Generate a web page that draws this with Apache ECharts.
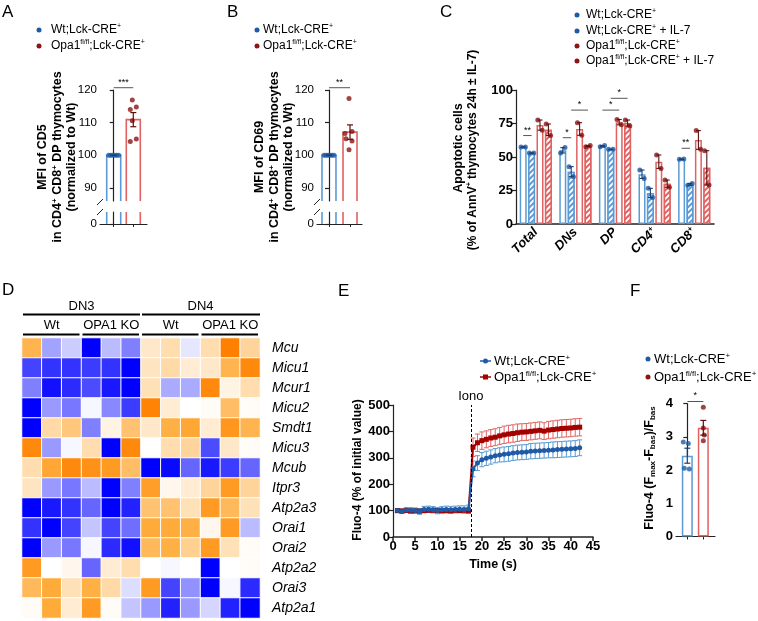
<!DOCTYPE html>
<html><head><meta charset="utf-8">
<script src="https://cdn.jsdelivr.net/npm/echarts@6/dist/echarts.min.js"></script>
<style>html,body{margin:0;padding:0;background:#fff}#c{width:758px;height:621px}</style>
</head><body><div id="c"></div>
<script>
// ================= DATA =================
// Panel A : MFI of CD5 (normalized to Wt)
const aWt = [100, 100, 100, 100, 100, 100];
const aKo = [116.9, 114.8, 114.0, 110.6, 104.2, 105.0];
const aSig = '***';
// Panel B : MFI of CD69
const bWt = [100, 100, 100, 100, 100, 100];
const bKo = [117.4, 106.7, 107.3, 105.1, 104.4, 101.7];
const bSig = '**';
// Panel C : apoptotic cells (two replicates per bar)
const cCats = ['Total', 'DNs', 'DP', 'CD4+', 'CD8+'];
const cWt    = [[57.5, 57.5], [53, 57], [57.7, 58.5], [40.3, 34], [48.3, 48.5]];
const cWtIL7 = [[53, 53], [42.8, 35.3], [55.7, 55.7], [26.6, 19.7], [28.9, 30.3]];
const cKo    = [[77.6, 70], [75.6, 66.2], [78, 74], [51.5, 41.5], [69.7, 55.7]];
const cKoIL7 = [[74.6, 66], [57.7, 58.5], [77.6, 73.1], [32.8, 27.4], [54.7, 29.1]];
// significance: [category, barA, barB, y value, label]
const cSig = [[0, 0, 1, 66, '**'], [1, 0, 1, 64.4, '*'], [1, 1, 3, 85, '*'],
              [2, 0, 2, 85, '*'], [2, 1, 3, 93.8, '*'], [4, 0, 1, 56.5, '**']];
// Panel D : heatmap (z-scores)
const dGenes = ['Mcu','Micu1','Mcur1','Micu2','Smdt1','Micu3','Mcub','Itpr3','Atp2a3','Orai1','Orai2','Atp2a2','Orai3','Atp2a1'];
const dSamples = ['DN3 Wt 1','DN3 Wt 2','DN3 Wt 3','DN3 KO 1','DN3 KO 2','DN3 KO 3','DN4 Wt 1','DN4 Wt 2','DN4 Wt 3','DN4 KO 1','DN4 KO 2','DN4 KO 3'];
const dValues = [
  [ 1.8,-1.1,-0.6,-3.0,-0.8,-1.5, 0.6, 0.9,-0.3, 0.9, 3.0, 1.1],
  [-2.2,-2.4,-2.4,-2.3,-2.4,-3.0, 0.7, 1.0, 0.5, 0.6, 1.8, 2.8],
  [-1.5,-2.8,-2.5,-2.1,-2.7,-3.0, 0.8,-1.0,-1.0, 2.8, 0.3, 0.9],
  [-3.0,-1.2,-1.6,-0.1,-1.4,-2.3, 2.9, 0.5, 0.0, 0.1, 1.6, 0.1],
  [-3.0, 1.0, 1.4,-1.5, 0.3, 1.5, 0.6, 1.9, 2.1, 0.5, 2.5, 1.8],
  [ 2.8,-1.2,-0.1, 0.9,-3.0, 2.8, 0.0, 0.9, 1.1,-2.1, 0.6, 0.1],
  [ 0.9, 2.1, 2.8, 2.6, 2.4, 1.6,-3.0,-2.9,-1.8,-2.7,-2.3,-1.8],
  [ 0.7,-1.2,-1.6,-0.8,-3.0,-1.5, 2.3, 0.2, 0.5, 1.1, 2.4, 1.1],
  [-3.0,-2.7,-2.4,-1.8,-3.0,-2.6, 1.5, 1.5, 0.8, 2.4, 1.7, 0.8],
  [-2.4,-3.0,-2.2,-0.7,-2.2,-1.7, 2.0, 2.0, 1.9, 0.2, 2.4,-0.8],
  [-3.0,-1.2,-1.6,-0.1,-2.5,-2.8, 1.7, 1.9, 1.2, 2.4, 0.8, 0.1],
  [ 2.4, 0.0, 0.2,-1.8, 0.5, 0.9, 0.0,-0.1, 0.0,-3.0, 0.0, 0.1],
  [ 1.7, 2.0, 0.8, 1.9, 1.0,-0.4, 2.4,-2.2,-1.3,-3.0,-0.1,-2.5],
  [ 0.1, 2.0, 0.5, 2.4, 0.1,-0.7,-1.2,-2.6,-1.2,-0.5,-2.6,-3.0]
];
// Panel E : Fluo-4 kinetics
const eTime = [1,2,3,4,5,6,7,8,9,10,11,12,13,14,15,16,17,18,19,20,21,22,23,24,25,26,27,28,29,30,31,32,33,34,35,36,37,38,39,40,41,42];
const eWt = [100,97,102,101,100,97,104,105,103,100,103,104,103,104,105,104,107,
             258,280,293,298,303,308,311,313,315,318,320,321,322,325,326,327,328,329,330,331,332,333,334,335,338];
const eWtSem = [8,8,9,10,10,11,12,12,12,12,12,13,13,13,13,14,14,
             30,28,27,27,27,27,27,28,28,28,28,28,28,29,29,29,29,29,30,30,30,30,30,30,30];
const eKo = [100,99,100,98,99,98,100,101,101,100,99,100,99,101,100,101,98,
             340,357,365,370,375,378,383,387,390,392,395,397,398,400,402,404,401,405,407,409,411,412,413,415,416];
const eKoSem = [4,4,4,4,4,4,4,4,4,4,4,4,4,4,4,4,4,
             35,33,33,32,32,32,32,33,33,33,33,32,32,32,32,32,32,33,33,33,33,33,33,33,33];
const eIono = 17.5;
// Panel F : (Fmax-Fbas)/Fbas
const fWt = [2.84, 2.80, 2.05, 2.03];
const fKo = [3.89, 3.26, 3.05, 2.88];
const fSig = '*';

// ================= STYLE =================
const FONT = 'Liberation Sans, Arial, Helvetica, sans-serif';
const BLUE_BAR = '#5b9bd5', RED_BAR = '#e06262';
const BLUE_DOT = '#1f5aa6', RED_DOT = '#8b1515';
const E_BLUE = '#1f5aa6', E_RED = '#a30000', E_BLUE_ERR = '#5b9bd5', E_RED_ERR = '#e06666';
const jitWt6 = [-5, -3, -1, 1, 3, 5];
const jitAKo = [-1, 3, -3, -1, -3, 3];
const jitBKo = [-1, -5, 2, -4, 2, -1];
const jitFWt = [-4, 1, -3, 2];
const jitFKo = [0, 0, 1, 0];
const jitC = [-2.2, 2.2];
const C_BAR_W = 7, C_GAP = 0.2;

const mean = a => a.reduce((s, v) => s + v, 0) / a.length;
const sem = a => { const m = mean(a); return Math.sqrt(a.reduce((s, v) => s + (v - m) * (v - m), 0) / (a.length - 1)) / Math.sqrt(a.length); };

const cGroupW = 4 * C_BAR_W + 3 * C_BAR_W * C_GAP;
const cOff = [0, 1, 2, 3].map(i => -cGroupW / 2 + C_BAR_W / 2 + i * C_BAR_W * (1 + C_GAP));

// ================= RENDER HELPERS =================
function openBar(halfW, colors, base, clipTop, drawTop) {
  return function (params, api) {
    const x = api.value(0), v = Math.min(api.value(1), clipTop);
    const pB = api.coord([x, base]), pT = api.coord([x, v]);
    const st = { stroke: colors[params.dataIndex], lineWidth: 1.6, fill: null };
    if (drawTop) {
      return { type: 'polyline', shape: { points: [[pB[0] - halfW, pB[1]], [pB[0] - halfW, pT[1]], [pB[0] + halfW, pT[1]], [pB[0] + halfW, pB[1]]] }, style: st };
    }
    return { type: 'group', children: [
      { type: 'line', shape: { x1: pB[0] - halfW, y1: pB[1], x2: pB[0] - halfW, y2: pT[1] }, style: st },
      { type: 'line', shape: { x1: pB[0] + halfW, y1: pB[1], x2: pB[0] + halfW, y2: pT[1] }, style: st }
    ] };
  };
}
function errBar(cap, colorFn, width, offs) {
  return function (params, api) {
    const x0 = api.value(0), lo = api.value(1), hi = api.value(2);
    const off = offs ? offs[api.value(3)] : 0;
    const a = api.coord([x0, lo]), b = api.coord([x0, hi]);
    const x = a[0] + off, c = cap / 2;
    const st = { stroke: colorFn(params.dataIndex), lineWidth: width };
    return { type: 'group', children: [
      { type: 'line', shape: { x1: x, y1: a[1], x2: x, y2: b[1] }, style: st },
      { type: 'line', shape: { x1: x - c, y1: b[1], x2: x + c, y2: b[1] }, style: st },
      { type: 'line', shape: { x1: x - c, y1: a[1], x2: x + c, y2: a[1] }, style: st }
    ] };
  };
}
function sigMark(list, offs) {
  // list items: [xA, xB, y, label] (value axis) or [cat, barA, barB, y, label] (category + offsets)
  return function (params, api) {
    const it = list[params.dataIndex];
    let x1, x2, y;
    if (offs) {
      const p = api.coord([it[0], it[3]]);
      x1 = p[0] + offs[it[1]]; x2 = p[0] + offs[it[2]]; y = p[1];
    } else {
      const p1 = api.coord([it[0], it[2]]), p2 = api.coord([it[1], it[2]]);
      x1 = p1[0]; x2 = p2[0]; y = p1[1];
    }
    const lab = offs ? it[4] : it[3];
    return { type: 'group', children: [
      { type: 'line', shape: { x1: x1, y1: y, x2: x2, y2: y }, style: { stroke: '#555', lineWidth: 1 } },
      { type: 'text', style: { text: lab, x: (x1 + x2) / 2, y: y - 1, align: 'center', verticalAlign: 'bottom', textAlign: 'center', textVerticalAlign: 'bottom', font: '9px ' + FONT, fill: '#000' } }
    ] };
  };
}

// ================= TEXT HELPERS =================
const R = (sz, bold) => ({
  n: { fontSize: sz, fontWeight: bold ? 'bold' : 'normal', fontFamily: FONT, color: '#000', lineHeight: sz + 2 },
  s: { fontSize: Math.round(sz * 0.62), fontWeight: bold ? 'bold' : 'normal', fontFamily: FONT, color: '#000', verticalAlign: 'top', lineHeight: sz + 2 },
  u: { fontSize: Math.round(sz * 0.62), fontWeight: bold ? 'bold' : 'normal', fontFamily: FONT, color: '#000', verticalAlign: 'bottom', lineHeight: sz + 2 }
});
function txt(x, y, text, sz, bold, opt) {
  opt = opt || {};
  return { type: 'text', x: x, y: y, rotation: opt.rot || 0, z: 50,
    style: { text: text, rich: R(sz, bold), font: (bold ? 'bold ' : '') + sz + 'px ' + FONT, fill: '#000',
      align: opt.align || 'left', textAlign: opt.align || 'left', verticalAlign: 'middle', textVerticalAlign: 'middle' } };
}
function dot(cx, cy, col) { return { type: 'circle', z: 50, shape: { cx: cx, cy: cy, r: 2.5 }, style: { fill: col } }; }
function hdot(cx, cy, col) { return { type: 'group', z: 50, children: [dot(cx, cy, col), { type: 'line', shape: { x1: cx - 2, y1: cy + 2, x2: cx + 2, y2: cy - 2 }, style: { stroke: '#fff', lineWidth: 0.9 } }] }; }
function letter(x, y, t) { return { type: 'text', x: x, y: y, z: 50, style: { text: t, font: '17px ' + FONT, fill: '#000', align: 'left', verticalAlign: 'top', textAlign: 'left', textVerticalAlign: 'top' } }; }
function gline(x1, y1, x2, y2, w, col) { return { type: 'line', z: 50, shape: { x1: x1, y1: y1, x2: x2, y2: y2 }, style: { stroke: col || '#000', lineWidth: w || 1 } }; }

const WT_LAB = '{n|Wt;Lck-CRE}{s|+}';
const KO_LAB = '{n|Opa1}{s|fl/fl}{n|;Lck-CRE}{s|+}';

// ================= AXES =================
const AX = '#222';
const lblBase = { color: '#000', fontFamily: FONT };
function yVal(grid, min, max, custom, labelOpt) {
  return { gridIndex: grid, type: 'value', min: min, max: max,
    axisLine: { show: true, lineStyle: { color: AX, width: 1.2 } },
    axisTick: { show: true, length: 4, customValues: custom, lineStyle: { color: AX, width: 1.2 } },
    axisLabel: Object.assign({ customValues: custom, margin: 3 }, lblBase, labelOpt || { fontSize: 11.5 }),
    splitLine: { show: false } };
}
function xVal(grid, min, max, showLine, ticks) {
  return { gridIndex: grid, type: 'value', min: min, max: max,
    axisLine: { show: showLine, onZero: false, lineStyle: { color: AX, width: 1.2 } },
    axisTick: { show: !!ticks, customValues: ticks || [], length: 3, lineStyle: { color: AX } },
    axisLabel: { show: false }, splitLine: { show: false } };
}

const A_X = [-0.7, 1.7], B_X = [-0.57, 1.57], F_X = [-0.706, 1.73];
const BRK_MAX = 3.67;

const grids = [
  { left: 100, top: 90, width: 47, height: 111 },   // 0 A top
  { left: 100, top: 212, width: 47, height: 12 },   // 1 A bottom
  { left: 317, top: 90, width: 45, height: 111 },   // 2 B top
  { left: 317, top: 212, width: 45, height: 12 },   // 3 B bottom
  { left: 516, top: 90, width: 198, height: 134 },  // 4 C
  { left: 22, top: 338, width: 238, height: 280 },  // 5 D
  { left: 393, top: 405, width: 200, height: 132 }, // 6 E
  { left: 676, top: 403.5, width: 39, height: 133 } // 7 F
];
const boldLbl = { fontSize: 13, fontWeight: 'bold' };

const xAxes = [
  xVal(0, A_X[0], A_X[1], false), xVal(1, A_X[0], A_X[1], true, [0, 1]),
  xVal(2, B_X[0], B_X[1], false), xVal(3, B_X[0], B_X[1], true, [0, 1]),
  { gridIndex: 4, type: 'category', data: cCats,
    axisLine: { show: true, lineStyle: { color: AX, width: 1.5 } }, axisTick: { show: false },
    axisLabel: { rotate: 45, margin: 6, interval: 0, formatter: v => v.endsWith('+') ? '{i|' + v.slice(0, -1) + '}{is|+}' : '{i|' + v + '}',
      rich: { i: { fontSize: 13, fontWeight: 'bold', fontStyle: 'italic', fontFamily: FONT, color: '#000', lineHeight: 15 },
              is: { fontSize: 8, fontWeight: 'bold', fontStyle: 'italic', fontFamily: FONT, color: '#000', verticalAlign: 'top', lineHeight: 15 } } } },
  { gridIndex: 5, type: 'category', data: dSamples, show: false },
  { gridIndex: 6, type: 'value', min: 0, max: 45, interval: 5,
    axisLine: { show: true, onZero: false, lineStyle: { color: AX, width: 1.5 } }, axisTick: { show: true, length: 4, lineStyle: { color: AX, width: 1.5 } },
    axisLabel: Object.assign({ margin: 3 }, lblBase, boldLbl), splitLine: { show: false } },
  xVal(7, F_X[0], F_X[1], true, [0, 1])
];
const yAxes = [
  yVal(0, 86, 120, [90, 100, 110, 120]), yVal(1, 0, BRK_MAX, [0]),
  yVal(2, 86, 120, [90, 100, 110, 120]), yVal(3, 0, BRK_MAX, [0]),
  Object.assign(yVal(4, 0, 100, [0, 25, 50, 75, 100], boldLbl), { interval: 25 }),
  { gridIndex: 5, type: 'category', data: dGenes, inverse: true, position: 'right',
    axisLine: { show: false }, axisTick: { show: false },
    axisLabel: { margin: 12, fontSize: 14, fontStyle: 'italic', fontFamily: FONT, color: '#000' } },
  Object.assign(yVal(6, 0, 500, [0, 100, 200, 300, 400, 500], boldLbl), { interval: 100 }),
  Object.assign(yVal(7, 0, 4, [0, 1, 2, 3, 4], boldLbl), { interval: 1 })
];

// ================= SERIES =================
const series = [];
function twoGroupPanel(gTop, gBot, wt, ko, jitW, jitK, sig) {
  const means = [[0, mean(wt)], [1, mean(ko)]];
  const cols = [BLUE_BAR, RED_BAR];
  series.push({ type: 'custom', xAxisIndex: gTop, yAxisIndex: gTop, data: means, renderItem: openBar(7, cols, 86, 1e9, true), z: 1, silent: true });
  series.push({ type: 'custom', xAxisIndex: gBot, yAxisIndex: gBot, data: means, renderItem: openBar(7, cols, 0, BRK_MAX, false), z: 1, silent: true });
  series.push({ type: 'scatter', xAxisIndex: gTop, yAxisIndex: gTop, symbolSize: 5, z: 3,
    data: wt.map((v, i) => ({ value: [0, v], symbolOffset: [jitW[i], 0], itemStyle: { color: BLUE_DOT } }))
      .concat(ko.map((v, i) => ({ value: [1, v], symbolOffset: [jitK[i], 0], itemStyle: { color: RED_DOT } }))) });
  series.push({ type: 'custom', xAxisIndex: gTop, yAxisIndex: gTop, z: 4, silent: true,
    data: [[0, mean(wt) - sem(wt), mean(wt) + sem(wt)], [1, mean(ko) - sem(ko), mean(ko) + sem(ko)]],
    renderItem: errBar(6, i => i ? '#5a1010' : '#1a3f70', 1.2) });
  series.push({ type: 'custom', xAxisIndex: gTop, yAxisIndex: gTop, z: 4, silent: true, data: [[0]],
    renderItem: sigMark([[0, 1, 120.7, sig]]) });
}
twoGroupPanel(0, 1, aWt, aKo, jitWt6, jitAKo, aSig);
twoGroupPanel(2, 3, bWt, bKo, jitWt6, jitBKo, bSig);

// Panel C
const cSets = [cWt, cWtIL7, cKo, cKoIL7];
const cBorder = [BLUE_BAR, BLUE_BAR, RED_BAR, RED_BAR];
const cDotCol = [BLUE_DOT, BLUE_DOT, RED_DOT, RED_DOT];
cSets.forEach((set, k) => {
  const hatched = (k % 2 === 1);
  series.push({ type: 'bar', xAxisIndex: 4, yAxisIndex: 4, barWidth: C_BAR_W, barGap: (C_GAP * 100) + '%', silent: true, z: 1,
    data: set.map(p => mean(p)),
    itemStyle: { color: '#fff', borderColor: cBorder[k], borderWidth: 1.5,
      decal: hatched ? { symbol: 'rect', symbolSize: 1, color: cBorder[k], backgroundColor: '#fff', dashArrayX: [1, 0], dashArrayY: [1.6, 1.6], rotation: -Math.PI / 4 } : null } });
});
const cDots = [], cErr = [];
cSets.forEach((set, k) => set.forEach((p, ci) => {
  p.forEach((v, j) => cDots.push({ value: [ci, v], symbolOffset: [cOff[k] + jitC[j], 0], itemStyle: { color: cDotCol[k] } }));
  cErr.push([ci, mean(p) - sem(p), mean(p) + sem(p), k]);
}));
series.push({ type: 'custom', xAxisIndex: 4, yAxisIndex: 4, z: 4, silent: true, data: cErr,
  renderItem: errBar(5, i => cDotCol[cErr[i][3]] === BLUE_DOT ? '#1a3f70' : '#5a1010', 1.1, cOff) });
series.push({ type: 'scatter', xAxisIndex: 4, yAxisIndex: 4, symbolSize: 5, z: 3, data: cDots });
series.push({ type: 'custom', xAxisIndex: 4, yAxisIndex: 4, z: 4, silent: true, data: cSig.map(s => [s[0]]), renderItem: sigMark(cSig, cOff) });

// Panel D
const heatIndex = series.length;
const dData = [];
dValues.forEach((row, r) => row.forEach((v, c) => dData.push([c, r, v])));
series.push({ type: 'heatmap', xAxisIndex: 5, yAxisIndex: 5, data: dData, silent: true,
  itemStyle: { borderColor: '#fff', borderWidth: 1 }, emphasis: { disabled: true } });

// Panel E
series.push({ type: 'custom', xAxisIndex: 6, yAxisIndex: 6, z: 2, silent: true,
  data: eTime.map((t, i) => [t, eKo[i] - eKoSem[i], eKo[i] + eKoSem[i]]), renderItem: errBar(5, () => E_RED_ERR, 1) });
series.push({ type: 'custom', xAxisIndex: 6, yAxisIndex: 6, z: 2, silent: true,
  data: eTime.map((t, i) => [t, eWt[i] - eWtSem[i], eWt[i] + eWtSem[i]]), renderItem: errBar(5, () => E_BLUE_ERR, 1) });
series.push({ type: 'line', xAxisIndex: 6, yAxisIndex: 6, z: 3, silent: true, data: eTime.map((t, i) => [t, eKo[i]]),
  symbol: 'rect', symbolSize: 5, showAllSymbol: true, itemStyle: { color: E_RED }, lineStyle: { color: E_RED, width: 2 } });
series.push({ type: 'line', xAxisIndex: 6, yAxisIndex: 6, z: 4, silent: true, data: eTime.map((t, i) => [t, eWt[i]]),
  symbol: 'circle', symbolSize: 5, showAllSymbol: true, itemStyle: { color: E_BLUE }, lineStyle: { color: E_BLUE, width: 2 },
  markLine: { silent: true, symbol: ['none', 'none'], data: [{ xAxis: eIono }],
    lineStyle: { color: '#000', type: [3, 2], width: 1 },
    label: { show: true, position: 'end', formatter: 'Iono', color: '#000', fontSize: 13, fontFamily: FONT, distance: 2 } } });

// Panel F
series.push({ type: 'bar', xAxisIndex: 7, yAxisIndex: 7, barWidth: 11, silent: true, z: 1,
  data: [{ value: [0, mean(fWt)], itemStyle: { borderColor: BLUE_BAR } }, { value: [1, mean(fKo)], itemStyle: { borderColor: RED_BAR } }],
  itemStyle: { color: '#fff', borderWidth: 1.5 } });
series.push({ type: 'scatter', xAxisIndex: 7, yAxisIndex: 7, symbolSize: 5, z: 3,
  data: fWt.map((v, i) => ({ value: [0, v], symbolOffset: [jitFWt[i], 0], itemStyle: { color: BLUE_DOT } }))
    .concat(fKo.map((v, i) => ({ value: [1, v], symbolOffset: [jitFKo[i], 0], itemStyle: { color: RED_DOT } }))) });
series.push({ type: 'custom', xAxisIndex: 7, yAxisIndex: 7, z: 4, silent: true,
  data: [[0, mean(fWt) - sem(fWt), mean(fWt) + sem(fWt)], [1, mean(fKo) - sem(fKo), mean(fKo) + sem(fKo)]],
  renderItem: errBar(6, i => i ? '#5a1010' : '#1a3f70', 1.2) });
series.push({ type: 'custom', xAxisIndex: 7, yAxisIndex: 7, z: 4, silent: true, data: [[0]],
  renderItem: sigMark([[0, 1, 4.06, fSig]]) });

// ================= GRAPHICS (letters, legends, titles) =================
const g = [];
g.push(letter(2, 4, 'A'), letter(227, 4, 'B'), letter(440, 4, 'C'), letter(2, 282, 'D'), letter(338, 283, 'E'), letter(630, 283, 'F'));
// legends A, B
[[39, 51], [257, 263]].forEach(p => {
  g.push(dot(p[0], 30, BLUE_DOT), txt(p[1], 30, WT_LAB, 12, false));
  g.push(dot(p[0], 46, RED_DOT), txt(p[1], 46, KO_LAB, 12, false));
});
// legend C
g.push(dot(577, 15, BLUE_DOT), txt(586, 15, WT_LAB, 12, false));
g.push(hdot(577, 31, BLUE_DOT), txt(586, 31, WT_LAB + '{n| + IL-7}', 12, false));
g.push(dot(577, 46, RED_DOT), txt(586, 46, KO_LAB, 12, false));
g.push(hdot(577, 61, RED_DOT), txt(586, 61, KO_LAB + '{n| + IL-7}', 12, false));
// legend E
g.push(gline(480, 361, 491, 361, 1.5, E_BLUE), dot(485.5, 361, E_BLUE), txt(494, 361, WT_LAB, 13, false));
g.push(gline(480, 377, 491, 377, 1.5, E_RED), { type: 'rect', z: 50, shape: { x: 483, y: 374.5, width: 5, height: 5 }, style: { fill: E_RED } }, txt(494, 377, KO_LAB, 13, false));
// legend F
g.push(dot(648, 359, BLUE_DOT), txt(654, 359, WT_LAB, 13, false));
g.push(dot(648, 377, RED_DOT), txt(654, 377, KO_LAB, 13, false));
// y titles
const ROT = Math.PI / 2;
[0, 217].forEach(dx => {
  g.push(txt(43 + dx, 157, '{n|' + (dx ? 'MFI of CD69' : 'MFI of CD5') + '}', 12.5, true, { rot: ROT, align: 'center' }));
  g.push(txt(58 + dx, 157, '{n|in CD4}{s|+}{n| CD8}{s|+}{n| DP thymocytes}', 12.5, true, { rot: ROT, align: 'center' }));
  g.push(txt(72 + dx, 157, '{n|(normalized to Wt)}', 12.5, true, { rot: ROT, align: 'center' }));
});
g.push(txt(459, 148, '{n|Apoptotic cells}', 12.5, true, { rot: ROT, align: 'center' }));
g.push(txt(473, 150, '{n|(% of AnnV}{s|+}{n| thymocytes 24h ± IL-7)}', 12, true, { rot: ROT, align: 'center' }));
g.push(txt(358, 470, '{n|Fluo-4 (% of initial value)}', 12, true, { rot: ROT, align: 'center' }));
g.push(txt(650, 468, '{n|Fluo-4 (F}{u|max}{n|-F}{u|bas}{n|)/F}{u|bas}', 12.5, true, { rot: ROT, align: 'center' }));
g.push(txt(493, 565, '{n|Time (s)}', 12.5, true, { align: 'center' }));
// axis breaks A, B
[100, 317].forEach(x => {
  g.push(gline(x - 3, 205, x + 3, 199, 1, AX), gline(x - 3, 215, x + 3, 209, 1, AX));
});
// heatmap header
const dg = grids[5], cw = dg.width / dSamples.length;
const cx = i => dg.left + i * cw;
g.push(txt((cx(0) + cx(6)) / 2, 306, '{n|DN3}', 13, false, { align: 'center' }), gline(cx(0) + 1, 314.5, cx(6) - 1, 314.5, 2));
g.push(txt((cx(6) + cx(12)) / 2, 306, '{n|DN4}', 13, false, { align: 'center' }), gline(cx(6) + 1, 314.5, cx(12), 314.5, 2));
[[0, 'Wt'], [3, 'OPA1 KO'], [6, 'Wt'], [9, 'OPA1 KO']].forEach(p => {
  g.push(txt((cx(p[0]) + cx(p[0] + 3)) / 2, 325, '{n|' + p[1] + '}', 13, false, { align: 'center' }));
  g.push(gline(cx(p[0]) + 1, 334.5, cx(p[0] + 3) - 2, 334.5, 2));
});

const chart = echarts.init(document.getElementById('c'), null, { renderer: 'canvas' });
chart.setOption({
  animation: false,
  backgroundColor: '#fff',
  textStyle: { fontFamily: FONT },
  grid: grids,
  xAxis: xAxes,
  yAxis: yAxes,
  visualMap: [{ type: 'continuous', show: false, min: -3, max: 3, seriesIndex: heatIndex,
    inRange: { color: ['#0000ff', '#5555ff', '#aaaaff', '#ffffff', '#ffd9a6', '#ffab3a', '#ff8000'] } }],
  series: series,
  graphic: { elements: g }
});
</script></body></html>
